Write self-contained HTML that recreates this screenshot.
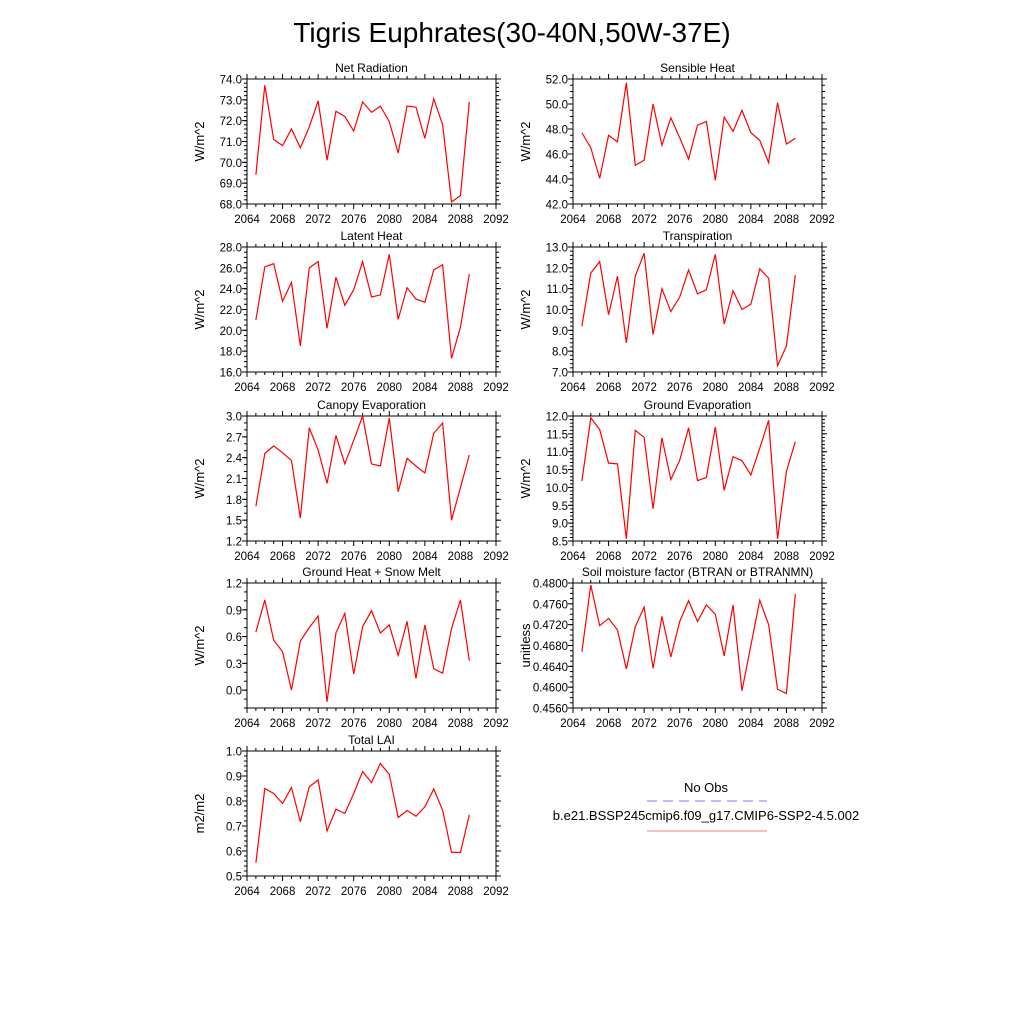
<!DOCTYPE html>
<html><head><meta charset="utf-8">
<style>
html,body{margin:0;padding:0;background:#fff;}
svg{display:block;font-family:"Liberation Sans",sans-serif;}
</style></head>
<body>
<svg id="fig" width="1024" height="1024" viewBox="0 0 1024 1024">
<text x="512" y="42" font-size="28" text-anchor="middle">Tigris Euphrates(30-40N,50W-37E)</text>
<g>
<text x="706" y="792" font-size="13" text-anchor="middle">No Obs</text>
<line x1="647" y1="801" x2="767" y2="801" stroke="#7a7aff" stroke-width="1" stroke-dasharray="10,6"/>
<text x="706" y="820" font-size="13" text-anchor="middle">b.e21.BSSP245cmip6.f09_g17.CMIP6-SSP2-4.5.002</text>
<line x1="647" y1="831" x2="767" y2="831" stroke="#f08080" stroke-width="1"/>
</g>
</svg>
<script>
const years = [2065,2066,2067,2068,2069,2070,2071,2072,2073,2074,2075,2076,2077,2078,2079,2080,2081,2082,2083,2084,2085,2086,2087,2088,2089];
const xTicks = [2064,2068,2072,2076,2080,2084,2088,2092];
const netRad = [69.4,73.7,71.1,70.8,71.6,70.7,71.7,72.95,70.1,72.45,72.2,71.5,72.9,72.4,72.7,71.95,70.45,72.7,72.65,71.15,73.05,71.8,68.1,68.4,72.9];
const sensible = [47.7,46.5,44.05,47.5,46.97,51.7,45.1,45.5,50.0,46.7,48.9,47.3,45.6,48.3,48.6,43.9,48.95,47.8,49.5,47.7,47.1,45.3,50.1,46.8,47.25];
const latent = [21.0,26.1,26.4,22.8,24.6,18.5,26.0,26.6,20.2,25.1,22.4,23.9,26.6,23.2,23.4,27.3,21.05,24.1,23.0,22.7,25.8,26.3,17.3,20.3,25.4];
const transp = [9.2,11.75,12.3,9.75,11.6,8.4,11.6,12.7,8.8,11.0,9.9,10.6,11.9,10.75,10.95,12.65,9.3,10.9,10.0,10.25,11.95,11.5,7.3,8.25,11.65];
const canopy = [1.7,2.46,2.57,2.47,2.36,1.53,2.83,2.51,2.03,2.72,2.31,2.65,3.0,2.31,2.28,2.97,1.91,2.39,2.28,2.18,2.75,2.9,1.5,1.97,2.44];
const groundEvap = [10.18,11.95,11.62,10.68,10.66,8.56,11.6,11.4,9.4,11.39,10.22,10.76,11.67,10.19,10.28,11.69,9.92,10.86,10.75,10.35,11.1,11.88,8.56,10.45,11.28];
const groundHeat = [0.65,1.01,0.56,0.43,0.0,0.55,0.7,0.83,-0.13,0.64,0.86,0.18,0.71,0.89,0.64,0.73,0.39,0.77,0.13,0.73,0.24,0.19,0.69,1.01,0.33];
const btran = [0.4668,0.4796,0.4718,0.4732,0.4710,0.4635,0.4716,0.4754,0.4636,0.4736,0.4658,0.4726,0.4766,0.4726,0.4758,0.4740,0.4660,0.4758,0.4593,0.4680,0.4767,0.4720,0.4596,0.4588,0.4779];
const lai = [0.553,0.85,0.83,0.79,0.854,0.717,0.857,0.884,0.68,0.767,0.75,0.83,0.918,0.874,0.95,0.906,0.734,0.762,0.739,0.777,0.848,0.763,0.595,0.594,0.745];

const NS='http://www.w3.org/2000/svg';
const svg=document.getElementById('fig');
function mk(tag,attrs,parent){const e=document.createElementNS(NS,tag);for(const k in attrs)e.setAttribute(k,attrs[k]);(parent||svg).appendChild(e);return e;}

const panels=[
 {id:'net-radiation',title:'Net Radiation',unit:'W/m^2',data:netRad,x0:247,y0:79,ymin:68,ymax:74,step:1,dec:1,minor:5},
 {id:'sensible-heat',title:'Sensible Heat',unit:'W/m^2',data:sensible,x0:573,y0:79,ymin:42,ymax:52,step:2,dec:1,minor:4},
 {id:'latent-heat',title:'Latent Heat',unit:'W/m^2',data:latent,x0:247,y0:247,ymin:16,ymax:28,step:2,dec:1,minor:4},
 {id:'transpiration',title:'Transpiration',unit:'W/m^2',data:transp,x0:573,y0:247,ymin:7,ymax:13,step:1,dec:1,minor:5},
 {id:'canopy-evaporation',title:'Canopy Evaporation',unit:'W/m^2',data:canopy,x0:247,y0:416,ymin:1.2,ymax:3.0,step:0.3,dec:1,minor:3},
 {id:'ground-evaporation',title:'Ground Evaporation',unit:'W/m^2',data:groundEvap,x0:573,y0:416,ymin:8.5,ymax:12,step:0.5,dec:1,minor:5},
 {id:'ground-heat',title:'Ground Heat + Snow Melt',unit:'W/m^2',data:groundHeat,x0:247,y0:583,ymin:-0.2,ymax:1.2,step:0.3,dec:1,minor:3,tick0:0},
 {id:'soil-moisture',title:'Soil moisture factor (BTRAN or BTRANMN)',unit:'unitless',data:btran,x0:573,y0:583,ymin:0.456,ymax:0.48,step:0.004,dec:4,minor:4},
 {id:'total-lai',title:'Total LAI',unit:'m2/m2',data:lai,x0:247,y0:751,ymin:0.5,ymax:1.0,step:0.1,dec:1,minor:5},
];
const W=249,H=125;
panels.forEach(p=>{
 const g=mk('g',{});
 
 
 const xs=v=>p.x0+(v-2064)/28*W;
 const ys=v=>p.y0+H-(v-p.ymin)/(p.ymax-p.ymin)*H;
 const t=mk('text',{x:p.x0+W/2,y:p.y0-7,'font-size':12,'text-anchor':'middle'},g);
 t.textContent=p.title;
 
 
 const fr=mk('rect',{x:p.x0,y:p.y0,width:W,height:H,fill:'none',stroke:'#000','stroke-width':1},g);
 
 
 // x ticks
 for(let yr=2064;yr<=2092;yr++){
  const X=xs(yr), major=(yr%4===0), L=major?5:3;
  mk('line',{x1:X,y1:p.y0+H,x2:X,y2:p.y0+H+L,stroke:'#000','stroke-width':1},g);
  mk('line',{x1:X,y1:p.y0,x2:X,y2:p.y0-L,stroke:'#000','stroke-width':1},g);
 }
 xTicks.forEach(v=>{
  const tx=mk('text',{x:xs(v),y:p.y0+H+19,'font-size':11.5,'text-anchor':'middle'},g);
  tx.textContent=v;
  
  
 });
 // y ticks
 const start=p.tick0!==undefined?p.tick0:p.ymin;
 const nMaj=Math.round((p.ymax-start)/p.step);
 for(let i=0;i<=nMaj;i++){
  const v=start+i*p.step, Y=ys(v);
  mk('line',{x1:p.x0,y1:Y,x2:p.x0-5,y2:Y,stroke:'#000'},g);
  mk('line',{x1:p.x0+W,y1:Y,x2:p.x0+W+5,y2:Y,stroke:'#000'},g);
  const ty=mk('text',{x:p.x0-5,y:Y+4.5,'font-size':11.5,'text-anchor':'end'},g);
  ty.textContent=v.toFixed(p.dec);
  
  
 }
 const ms=p.step/p.minor;
 const nMin=Math.round((p.ymax-p.ymin)/ms);
 for(let i=0;i<=nMin;i++){
  const Y=ys(p.ymin+i*ms);
  mk('line',{x1:p.x0,y1:Y,x2:p.x0-3,y2:Y,stroke:'#000'},g);
  mk('line',{x1:p.x0+W,y1:Y,x2:p.x0+W+3,y2:Y,stroke:'#000'},g);
 }
 const yl=mk('text',{x:0,y:0,'font-size':13,'text-anchor':'middle',transform:`translate(${p.x0-43},${p.y0+H/2}) rotate(-90)`},g);
 yl.textContent=p.unit;
 
 
 const pts=p.data.map((v,i)=>xs(years[i]).toFixed(2)+','+ys(v).toFixed(2)).join(' ');
 const pl=mk('polyline',{points:pts,fill:'none',stroke:'#ff0000','stroke-width':1.2},g);
 
 
});
</script>
</body></html>
